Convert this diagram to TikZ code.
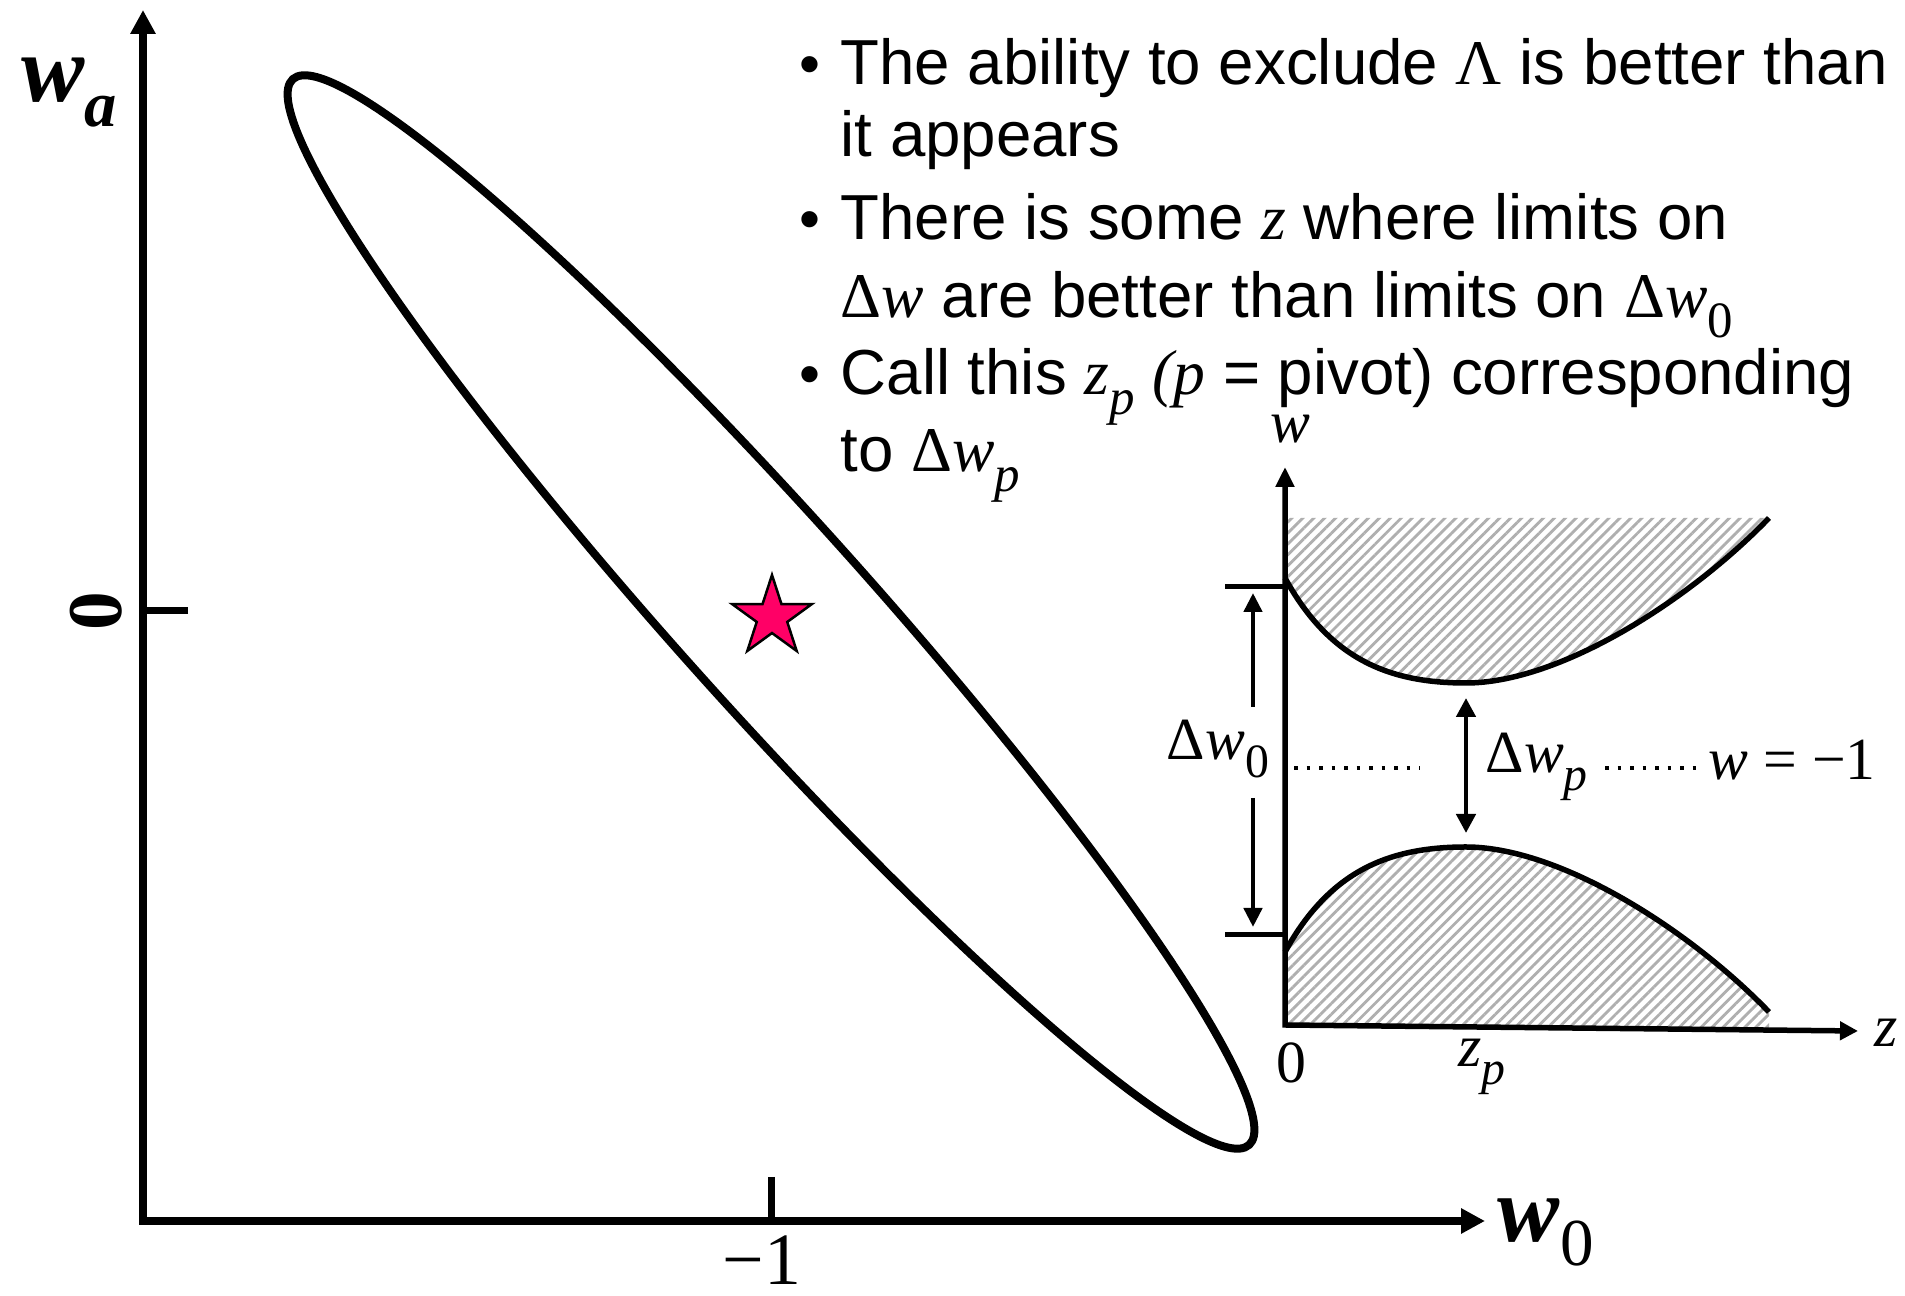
\documentclass[tikz,border=0pt]{standalone}
\usepackage{fontspec}
\usepackage{graphicx}
\setmainfont{Liberation Sans}
\newfontfamily\tnr{Liberation Serif}
\usetikzlibrary{arrows.meta,shapes.geometric,patterns.meta}
\definecolor{starpink}{RGB}{255,0,102}
\definecolor{hatchgray}{RGB}{175,175,175}
\newcommand{\vi}[1]{{\tnr\itshape #1}}
\newcommand{\vu}[1]{{\tnr #1}}
\newcommand{\lsub}[1]{\raisebox{-0.3em}{\scalebox{0.8}{#1}}}

\begin{document}
\begin{tikzpicture}[x=0.1mm,y=-0.1mm,
  txt/.style={inner sep=0pt,anchor=base west,font=\fontsize{18.1}{22}\selectfont},
  bul/.style={inner sep=0pt,anchor=base,font=\fontsize{17}{17}\selectfont},
  ilbl/.style={inner sep=0pt,font=\tnr\fontsize{17}{17}\selectfont},
  axis/.style={line width=0.8mm,{Triangle[length=2.4mm,width=2.4mm]}-{Triangle[length=2.4mm,width=2.4mm]}},
  iaxis/.style={line width=0.55mm,{Triangle[length=2mm,width=1.8mm]}-{Triangle[length=1.8mm,width=1.8mm]}},
  tick/.style={line width=0.7mm},
  itick/.style={line width=0.5mm},
  bound/.style={line width=0.55mm},
  hatch/.style={pattern={Lines[angle=45,distance=2.2pt,line width=0.8pt]},pattern color=hatchgray},
  sarr/.style={line width=0.45mm,-{Triangle[length=1.9mm,width=1.8mm]}},
  darr/.style={line width=0.45mm,{Triangle[length=1.9mm,width=1.9mm]}-{Triangle[length=1.9mm,width=1.9mm]}},
  dots/.style={line width=0.35mm,dash pattern=on 0.35mm off 0.9mm},
]
\useasboundingbox (0,0) rectangle (1905,1296);

% main w0 - wa plane
\coordinate (O) at (143,1221);
\coordinate (ytip) at (143,10);
\coordinate (xtip) at (1485,1221);
\draw[axis] (ytip) -- (O) -- (xtip);
\coordinate (yt) at (188,611);
\coordinate (xt) at (771,1177);
\draw[tick] (yt) -- (yt -| O);
\draw[tick] (xt) -- (xt |- O);
\node[inner sep=0pt,anchor=base west,font=\tnr\bfseries\itshape\fontsize{27}{27}\selectfont] (wa) at (21,102) {w\raisebox{-0.26em}{\scalebox{0.68}{a}}};
\node[inner sep=0pt,anchor=base west,font=\tnr\fontsize{26.5}{26.5}\selectfont] (w0) at (1497,1242) {\textbf{\textit{w}}\raisebox{-0.25em}{\scalebox{0.72}{0}}};
\node[inner sep=0pt,rotate=90,font=\tnr\bfseries\fontsize{22}{22}\selectfont] (yzero) at (96,611) {0};
\node[inner sep=0pt,anchor=base,font=\tnr\fontsize{21}{21}\selectfont] (xmone) at (762,1285) {−1};

% likelihood contour and fiducial model
\draw[line width=0.8mm,shift={(771,612)},rotate=-48.1] (0,0) ellipse [x radius=71.6mm,y radius=9.5mm];
\node[star,star points=5,star point ratio=2.618,minimum size=8.4mm,inner sep=0pt,
  fill=starpink,draw=black,line width=0.25mm] (fid) at (772,617) {};

% bullets
\node[bul] (b1) at (810,85) {•};
\node[txt] (l1) at (840,85) {The ability to exclude \vu{Λ} is better than};
\node[txt] (l2) at (840,157) {it appears};
\node[bul] (b2) at (810,240) {•};
\node[txt] (l3) at (840,240) {There is some \vi{z} where limits on};
\node[txt] (l4) at (840,318) {\vu{Δ}\vi{w} are better than limits on \vu{Δ}\vi{w}\lsub{\vu{0}}};
\node[bul] (b3) at (810,395) {•};
\node[txt] (l5) at (840,395) {Call this \vi{z}\lsub{\vi{p}} \vi{(p} = pivot) corresponding};
\node[txt] (l6) at (840,472) {to \vu{Δ}\vi{w}\lsub{\vi{p}}};

% inset w(z)
\coordinate (zo) at (1285,1025);
\coordinate (wtip) at (1285,467);
\coordinate (ztip) at (1858,1031);
\fill[hatch] (1287,518) -- (1769,518) .. controls (1690,600) and (1560,683) .. (1466,683)
  .. controls (1390,683) and (1330,660) .. (1287,578) -- cycle;
\fill[hatch] (1287,952) .. controls (1330,870) and (1390,847) .. (1466,847)
  .. controls (1560,847) and (1690,930) .. (1769,1012) -- (1769,1030) -- (1287,1025) -- cycle;
\draw[bound] (1285,578) .. controls (1330,660) and (1390,683) .. (1466,683)
  .. controls (1560,683) and (1690,600) .. (1769,518);
\draw[bound] (1285,952) .. controls (1330,870) and (1390,847) .. (1466,847)
  .. controls (1560,847) and (1690,930) .. (1769,1012);
\draw[iaxis] (wtip) -- (zo) -- (ztip);
\coordinate (tk1) at (1225,587);
\coordinate (tk2) at (1225,935);
\draw[itick] (tk1) -- (tk1 -| zo);
\draw[itick] (tk2) -- (tk2 -| zo);
\node[ilbl,anchor=base] (wlab) at (1290,443) {\itshape w};
\node[ilbl,anchor=base] (zlab) at (1886,1047) {\itshape z};
\node[ilbl,anchor=base] (zzero) at (1291,1083) {0};
\node[ilbl,anchor=base west] (zplab) at (1458,1067) {\itshape z\lsub{p}};
\node[ilbl,anchor=base] (dw0) at (1218,760) {Δ\textit{w}\lsub{0}};
\node[ilbl,anchor=base west] (dwp) at (1485,773) {Δ\textit{w}\lsub{\textit{p}}};
\node[ilbl,anchor=base west] (wm1) at (1708,780) {\textit{w} = −1};
\coordinate (a0) at (1253,707);
\coordinate (a1) at (1253,593);
\coordinate (a2) at (1253,798);
\coordinate (a3) at (1253,927);
\draw[sarr] (a0) -- (a1);
\draw[sarr] (a2) -- (a3);
\coordinate (p0) at (1466,698);
\coordinate (p1) at (1466,833);
\draw[darr] (p0) -- (p1);
\coordinate (d0) at (1294,768);
\coordinate (d1) at (1420,768);
\coordinate (d2) at (1605,768);
\coordinate (d3) at (1696,768);
\draw[dots] (d0) -- (d1);
\draw[dots] (d2) -- (d3);
\end{tikzpicture}
\end{document}
